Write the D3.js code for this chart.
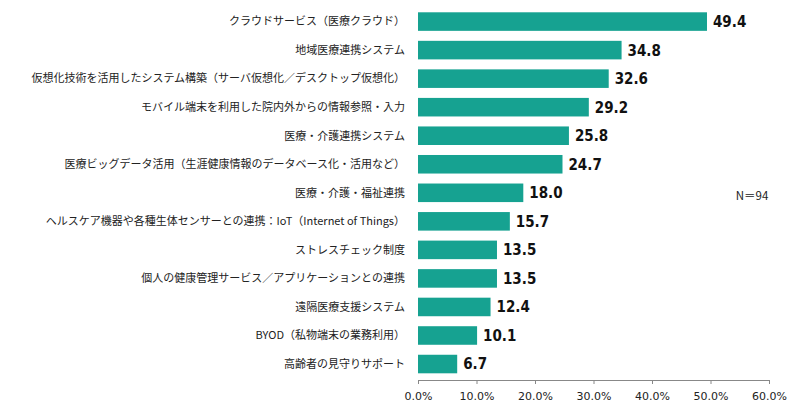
<!DOCTYPE html>
<html><head><meta charset="utf-8">
<script src="https://cdn.jsdelivr.net/npm/d3@7"></script>
<style>body{margin:0;background:#fff}svg{display:block}</style>
</head><body>
<svg id="chart" width="800" height="406"></svg>
<script>
// categories and values (%)
var categories = [
  'クラウドサービス（医療クラウド）',
  '地域医療連携システム',
  '仮想化技術を活用したシステム構築（サーバ仮想化／デスクトップ仮想化）',
  'モバイル端末を利用した院内外からの情報参照・入力',
  '医療・介護連携システム',
  '医療ビッグデータ活用（生涯健康情報のデータベース化・活用など）',
  '医療・介護・福祉連携',
  'ヘルスケア機器や各種生体センサーとの連携：IoT（Internet of Things）',
  'ストレスチェック制度',
  '個人の健康管理サービス／アプリケーションとの連携',
  '遠隔医療支援システム',
  'BYOD（私物端末の業務利用）',
  '高齢者の見守りサポート'
];
var values = [49.4, 34.8, 32.6, 29.2, 25.8, 24.7, 18.0, 15.7, 13.5, 13.5, 12.4, 10.1, 6.7];
var tickValues = [0, 10, 20, 30, 40, 50, 60];

var svg = d3.select('#chart');
var x = d3.scaleLinear().domain([0, 60]).range([418, 769]);
var y = d3.scaleBand().domain(categories).range([7.3, 378.3]).paddingInner(0.35).paddingOuter(0.175);

svg.selectAll('.bar').data(categories).enter().append('rect')
  .attr('x', x(0)).attr('y', function(d) { return y(d); })
  .attr('width', function(d, i) { return x(values[i]) - x(0); })
  .attr('height', y.bandwidth())
  .attr('fill', '#16a291');

svg.selectAll('.val').data(categories).enter().append('text')
  .attr('x', function(d, i) { return x(values[i]) + 6; })
  .attr('y', function(d) { return y(d) + y.bandwidth() / 2; })
  .attr('dy', '.36em')
  .style('font-family', '"DejaVu Sans", sans-serif').style('font-stretch', 'condensed')
  .style('font-weight', 'bold').style('font-size', '15px').attr('fill', '#111')
  .text(function(d, i) { return values[i].toFixed(1); });

svg.selectAll('.cat').data(categories).enter().append('text')
  .attr('x', 405).attr('y', function(d) { return y(d) + y.bandwidth() / 2; })
  .attr('dy', '.35em').attr('text-anchor', 'end')
  .style('font-family', '"Noto Sans CJK JP", sans-serif').style('font-size', '11px').attr('fill', '#222')
  .text(function(d) { return d; });

var axis = svg.append('g').attr('transform', 'translate(0,380)')
  .call(d3.axisBottom(x).tickValues(tickValues).tickSize(4).tickSizeOuter(0)
    .tickFormat(function(d) { return d.toFixed(1) + '%'; }));
axis.select('.domain').attr('stroke', '#888');
axis.selectAll('line').attr('stroke', '#888');
axis.selectAll('text').attr('y', 12).style('font-family', '"DejaVu Sans", sans-serif').style('font-size', '11px').attr('fill', '#222');

svg.append('text').attr('x', 752).attr('y', 200).attr('text-anchor', 'middle')
  .style('font-family', '"Noto Sans CJK JP", sans-serif').style('font-size', '11.5px').attr('fill', '#222')
  .text('N＝94');
</script>
</body></html>
